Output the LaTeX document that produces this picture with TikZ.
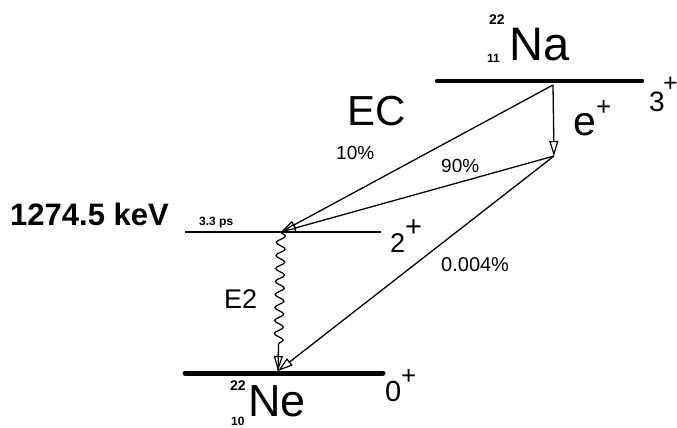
\documentclass[tikz,border=0pt]{standalone}
\usepackage{fontspec}
\setmainfont{Liberation Sans}
\usetikzlibrary{arrows.meta,decorations.pathmorphing}
\begin{document}
\begin{tikzpicture}[x=1pt,y=-1pt,
  level/.style={line width=#1},
  trans/.style={line width=1.3pt,-{Triangle[open,length=15pt,width=9pt,line width=1.2pt]}},
  lbl/.style={inner sep=0pt,anchor=base west},
  fs/.style={font=\fontsize{#1}{#1}\selectfont},
  fsb/.style={font=\fontsize{#1}{#1}\selectfont\bfseries}]
\useasboundingbox (0,0) rectangle (677,428);
% levels
\coordinate (naL) at (437,81); \coordinate (naR) at (642,81);
\coordinate (exL) at (185,232); \coordinate (exR) at (381,232);
\coordinate (gsL) at (185,373); \coordinate (gsR) at (383,373);
\draw[level=4.5pt,line cap=round] (naL) -- (naR);
\draw[level=1.2pt] (exL) -- (exR);
\draw[level=5pt,line cap=round] (gsL) -- (gsR);
% transition points
\coordinate (naP) at (553,85);
\coordinate (epP) at (554,156);
\coordinate (exP) at (281,232);
\coordinate (gsP) at (278,371);
\draw[trans] (naP) -- (epP);
\draw[trans] (naP) -- (exP);
\draw[trans] (epP) -- (exP);
\draw[trans] (epP) -- (gsP);
\draw[line width=1.2pt, decorate, decoration={snake,amplitude=4.5pt,segment length=13pt,post length=22pt}] (exP) -- (gsP);
\draw[trans,shorten <=120pt] (exP) -- (gsP);
% labels
\node[lbl,fs=47] (na) at (509,61) {Na};
\node[lbl,fsb=14] (na22) at (489,25) {22};
\node[lbl,fsb=12] (na11) at (487,63) {11};
\node[lbl,fs=28] (s3) at (649,111) {3};
\node[lbl,fs=25] (s3p) at (663,91) {+};
\node[lbl,fs=41] (ep) at (573,135) {e};
\node[lbl,fs=26] (epp) at (596,115) {+};
\node[lbl,fs=42] (ec) at (347,125) {EC};
\node[lbl,fs=19] (p10) at (336,159) {10\%};
\node[lbl,fs=19] (p90) at (441,172) {90\%};
\node[lbl,fs=20] (p004) at (441,271) {0.004\%};
\node[lbl,fsb=31] (kev) at (10,225) {1274.5 keV};
\node[lbl,fsb=12] (ps) at (199,225) {3.3 ps};
\node[lbl,fs=27] (s2) at (390,252) {2};
\node[lbl,fs=29] (s2p) at (405,236) {+};
\node[lbl,fs=27] (e2) at (224,308) {E2};
\node[lbl,fs=29] (s0) at (385,401) {0};
\node[lbl,fs=26] (s0p) at (401,384) {+};
\node[lbl,fs=45] (ne) at (248,416) {Ne};
\node[lbl,fsb=14] (ne22) at (230,390) {22};
\node[lbl,fsb=12] (ne10) at (231,425) {10};
\end{tikzpicture}
\end{document}
